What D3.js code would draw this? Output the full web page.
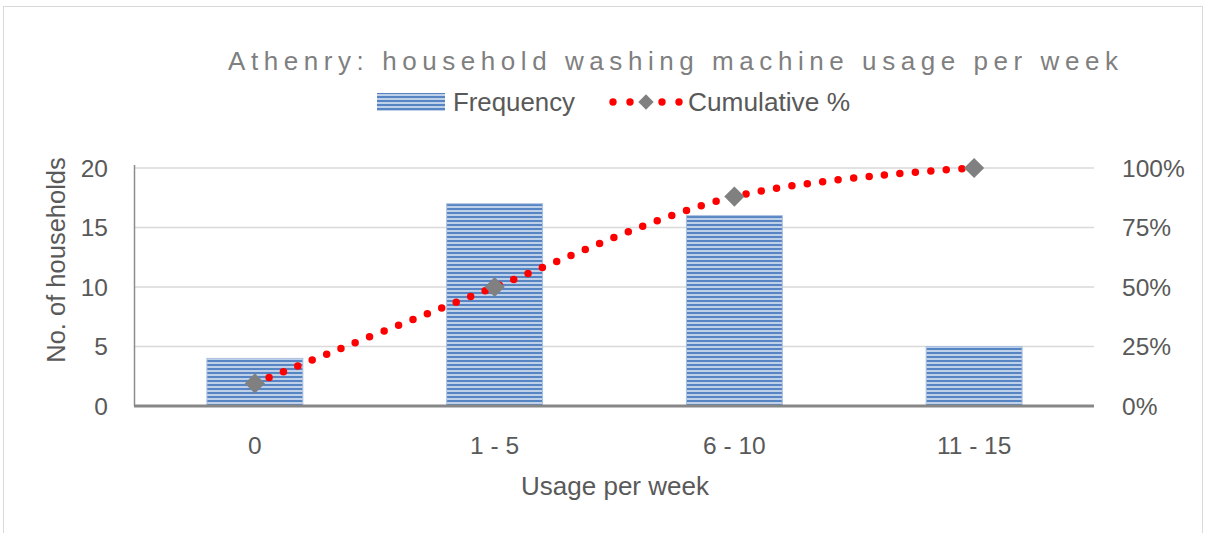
<!DOCTYPE html>
<html>
<head>
<meta charset="utf-8">
<script src="https://cdn.jsdelivr.net/npm/d3@7"></script>
<style>
  body { margin: 0; background: #fff; }
  svg { display: block; font-family: "Liberation Sans", Arial, sans-serif; }
</style>
</head>
<body>
<div id="chart"></div>
<script>
// Chart data
const categories = ["0", "1 - 5", "6 - 10", "11 - 15"];
const frequency = [4, 17, 16, 5];
const cumulative = [0.095, 0.5, 0.88, 1.0];
const leftTicks = [0, 5, 10, 15, 20];
const rightTicks = [0, 0.25, 0.5, 0.75, 1];

const W = 1205, H = 533;
const margin = { top: 168, right: 111, bottom: 127, left: 135 };
const width = W - margin.left - margin.right;
const height = H - margin.top - margin.bottom;

const svg = d3.select("#chart").append("svg")
    .attr("width", W)
    .attr("height", H);

// stripe pattern for the bars
const defs = svg.append("defs");
const pat = defs.append("pattern")
    .attr("id", "stripes")
    .attr("patternUnits", "userSpaceOnUse")
    .attr("width", 8).attr("height", 4);
pat.append("rect").attr("width", 8).attr("height", 4).attr("fill", "#bfd0e9");
pat.append("rect").attr("y", 0).attr("width", 8).attr("height", 2).attr("fill", "#5785c3");

// outer border
svg.append("rect")
    .attr("x", 3.5).attr("y", 6.5)
    .attr("width", 1199).attr("height", 560)
    .attr("fill", "none")
    .attr("stroke", "#d9d9d9");

const g = svg.append("g").attr("transform", `translate(${margin.left},${margin.top})`);

// Scales
const x = d3.scaleBand().domain(categories).range([0, width]).paddingInner(0.6).paddingOuter(0.3);
const y = d3.scaleLinear().domain([0, 20]).range([height, 0]);
const y2 = d3.scaleLinear().domain([0, 1]).range([height, 0]);

// gridlines
g.append("g")
    .selectAll("line")
    .data(leftTicks.slice(1))
    .enter().append("line")
    .attr("x1", 0).attr("x2", width)
    .attr("y1", d => y(d)).attr("y2", d => y(d))
    .attr("stroke", "#d9d9d9").attr("stroke-width", 1.5);

// bars
g.append("g")
    .selectAll("rect")
    .data(frequency)
    .enter().append("rect")
    .attr("x", (d, i) => x(categories[i]))
    .attr("y", d => y(d))
    .attr("width", x.bandwidth())
    .attr("height", d => height - y(d))
    .attr("fill", "url(#stripes)")
    .attr("stroke", "#a9bfdf")
    .attr("stroke-width", 1);

// axes lines
g.append("line")
    .attr("x1", -0.5).attr("x2", -0.5)
    .attr("y1", -3).attr("y2", height)
    .attr("stroke", "#8c8c8c").attr("stroke-width", 1.5);
g.append("line")
    .attr("x1", -1).attr("x2", width)
    .attr("y1", height).attr("y2", height)
    .attr("stroke", "#878787").attr("stroke-width", 3);

// tick labels
const tickStyle = sel => sel.attr("fill", "#595959").attr("font-size", 24.5);

g.append("g").selectAll("text")
    .data(leftTicks)
    .enter().append("text")
    .attr("x", -27).attr("y", d => y(d)).attr("dy", "0.36em")
    .attr("text-anchor", "end")
    .text(d => d)
    .call(tickStyle);

g.append("g").selectAll("text")
    .data(rightTicks)
    .enter().append("text")
    .attr("x", width + 28).attr("y", d => y2(d)).attr("dy", "0.36em")
    .attr("text-anchor", "start")
    .text(d => d3.format(".0%")(d))
    .call(tickStyle);

g.append("g").selectAll("text")
    .data(categories)
    .enter().append("text")
    .attr("x", d => x(d) + x.bandwidth() / 2)
    .attr("y", height + 48)
    .attr("text-anchor", "middle")
    .text(d => d)
    .call(tickStyle);

// axis titles
svg.append("text")
    .attr("x", 615).attr("y", 495)
    .attr("text-anchor", "middle")
    .attr("fill", "#595959").attr("font-size", 26)
    .text("Usage per week");

svg.append("text")
    .attr("transform", "translate(65,260) rotate(-90)")
    .attr("text-anchor", "middle")
    .attr("fill", "#595959").attr("font-size", 25.5)
    .text("No. of households");

// cumulative line (smoothed, dotted)
const pts = cumulative.map((d, i) => [x(categories[i]) + x.bandwidth() / 2, y2(d)]);
const line = d3.line().curve(d3.curveCatmullRom.alpha(0.5));
g.append("path")
    .attr("d", line(pts))
    .attr("fill", "none")
    .attr("stroke", "#ff0000")
    .attr("stroke-width", 7.5)
    .attr("stroke-linecap", "round")
    .attr("stroke-dasharray", "0 15.5");

const diamond = d3.symbol().type(d3.symbolDiamond2).size(260);
g.append("g").selectAll("path")
    .data(pts)
    .enter().append("path")
    .attr("transform", d => `translate(${d[0]},${d[1]})`)
    .attr("d", diamond)
    .attr("fill", "#808080");

// title
svg.append("text")
    .attr("x", 228).attr("y", 70)
    .attr("textLength", 890)
    .attr("lengthAdjust", "spacing")
    .attr("fill", "#7f7f7f").attr("font-size", 26)
    .text("Athenry: household washing machine usage per week");

// legend
const lg = svg.append("g");
lg.append("rect")
    .attr("x", 377).attr("y", 93).attr("width", 68).attr("height", 18)
    .attr("fill", "url(#stripes)");
lg.append("text")
    .attr("x", 453).attr("y", 111)
    .attr("textLength", 122).attr("lengthAdjust", "spacingAndGlyphs")
    .attr("fill", "#595959").attr("font-size", 25)
    .text("Frequency");
lg.append("g").selectAll("circle")
    .data([613, 630, 662, 679])
    .enter().append("circle")
    .attr("cx", d => d).attr("cy", 102).attr("r", 3.7)
    .attr("fill", "#ff0000");
lg.append("path")
    .attr("transform", "translate(646,102)")
    .attr("d", d3.symbol().type(d3.symbolDiamond2).size(150))
    .attr("fill", "#808080");
lg.append("text")
    .attr("x", 688).attr("y", 111)
    .attr("textLength", 162).attr("lengthAdjust", "spacingAndGlyphs")
    .attr("fill", "#595959").attr("font-size", 25)
    .text("Cumulative %");
</script>
</body>
</html>
